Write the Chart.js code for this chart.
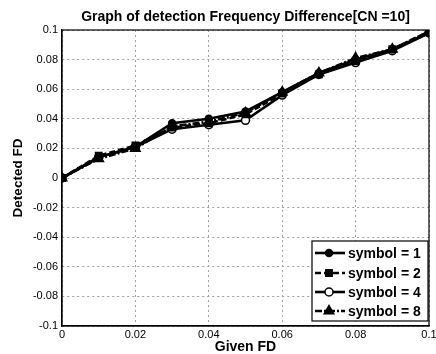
<!DOCTYPE html>
<html>
<head>
<meta charset="utf-8">
<script src="https://cdn.jsdelivr.net/npm/chart.js@4/dist/chart.umd.min.js"></script>
<style>
  html, body { margin: 0; padding: 0; background: #fff; }
  #wrap { width: 436px; height: 354px; position: relative; }
</style>
</head>
<body>
<div id="wrap"><canvas id="c" width="436" height="354"></canvas></div>
<script>
// ---- data ----
const xValues = [0, 0.01, 0.02, 0.03, 0.04, 0.05, 0.06, 0.07, 0.08, 0.09, 0.1];
const symbol1 = [0, 0.014, 0.021, 0.037, 0.040, 0.045, 0.058, 0.071, 0.080, 0.087, 0.098];
const symbol2 = [0, 0.015, 0.022, 0.034, 0.037, 0.043, 0.057, 0.070, 0.079, 0.087, 0.099];
const symbol4 = [0, 0.014, 0.021, 0.033, 0.036, 0.039, 0.056, 0.070, 0.078, 0.086, 0.098];
const symbol8 = [0, 0.013, 0.020, 0.035, 0.038, 0.044, 0.058, 0.071, 0.081, 0.087, 0.099];
const seriesLabels = ['symbol = 1', 'symbol = 2', 'symbol = 4', 'symbol = 8'];
const xTickLabels = ['0', '0.02', '0.04', '0.06', '0.08', '0.1'];
const yTickLabels = ['-0.1', '-0.08', '-0.06', '-0.04', '-0.02', '0', '0.02', '0.04', '0.06', '0.08', '0.1'];
const titleText = 'Graph of detection Frequency Difference[CN =10]';
const xTitle = 'Given FD';
const yTitle = 'Detected FD';

const FONT = "'Liberation Sans', Arial, sans-serif";
const toPts = arr => xValues.map((x, i) => ({ x: x, y: arr[i] }));

const datasets = [
  { label: seriesLabels[0], data: toPts(symbol1), pointStyle: 'circle', pointRadius: 3.5,
    pointBackgroundColor: '#000', borderDash: [] },
  { label: seriesLabels[1], data: toPts(symbol2), pointStyle: 'rect', pointRadius: 4.5,
    pointBackgroundColor: '#000', borderDash: [6, 3] },
  { label: seriesLabels[2], data: toPts(symbol4), pointStyle: 'circle', pointRadius: 4,
    pointBackgroundColor: '#fff', borderDash: [] },
  { label: seriesLabels[3], data: toPts(symbol8), pointStyle: 'triangle', pointRadius: 5.5,
    pointBackgroundColor: '#000', borderDash: [7, 2, 2, 2] }
].map(d => Object.assign({
  borderColor: '#000', borderWidth: 2.6, pointBorderColor: '#000', pointBorderWidth: 1.5,
  tension: 0, fill: false
}, d));

const framePlugin = {
  id: 'frame',
  afterDatasetsDraw(chart) {
    const { ctx, chartArea: a } = chart;
    ctx.save();
    ctx.strokeStyle = '#000';
    ctx.lineWidth = 1.2;
    ctx.setLineDash([]);
    ctx.strokeRect(a.left, a.top, a.right - a.left, a.bottom - a.top);
    ctx.restore();
  }
};

const legendBoxPlugin = {
  id: 'legendBox',
  afterDraw(chart) {
    const { ctx } = chart;
    const left = 312, top = 241, right = 428, bottom = 321;
    ctx.save();
    ctx.fillStyle = '#fff';
    ctx.fillRect(left, top, right - left, bottom - top);
    ctx.strokeStyle = '#000';
    ctx.lineWidth = 1.2;
    ctx.strokeRect(left, top, right - left, bottom - top);
    const rowY = [253, 273, 292, 311];
    chart.data.datasets.forEach((ds, i) => {
      const y = rowY[i];
      ctx.save();
      ctx.strokeStyle = ds.borderColor;
      ctx.lineWidth = ds.borderWidth;
      ctx.setLineDash(ds.borderDash || []);
      ctx.beginPath();
      ctx.moveTo(315, y);
      ctx.lineTo(345, y);
      ctx.stroke();
      ctx.restore();
      ctx.save();
      ctx.fillStyle = ds.pointBackgroundColor;
      ctx.strokeStyle = ds.pointBorderColor;
      ctx.lineWidth = ds.pointBorderWidth;
      Chart.helpers.drawPoint(ctx, { pointStyle: ds.pointStyle, radius: ds.pointRadius, rotation: 0, borderWidth: ds.pointBorderWidth }, 329, y);
      ctx.restore();
      ctx.fillStyle = '#000';
      ctx.font = 'bold 14px ' + FONT;
      ctx.textBaseline = 'middle';
      ctx.textAlign = 'left';
      ctx.fillText(ds.label, 348, y + 1);
    });
    ctx.restore();
  }
};

new Chart(document.getElementById('c'), {
  type: 'line',
  data: { datasets: datasets },
  options: {
    responsive: false,
    animation: false,
    devicePixelRatio: 1,
    layout: { padding: 0 },
    plugins: {
      legend: { display: false },
      tooltip: { enabled: false },
      title: {
        display: true, text: titleText, color: '#000', fullSize: false,
        font: { family: FONT, size: 14, weight: 'bold' },
        padding: { top: 9, bottom: 4.2 }
      }
    },
    scales: {
      x: {
        type: 'linear', min: 0, max: 0.1,
        ticks: {
          stepSize: 0.02, color: '#000', padding: 2, maxRotation: 0,
          font: { family: FONT, size: 11 },
          callback: (v, i) => xTickLabels[i] !== undefined ? xTickLabels[i] : ''
        },
        grid: { color: '#a0a0a0', lineWidth: 1, drawTicks: false },
        border: { display: true, color: '#000', width: 1.2, dash: [2, 3] },
        title: { display: true, text: xTitle, color: '#000',
          font: { family: FONT, size: 14, weight: 'bold' }, padding: { top: 0, bottom: -2 } },
        afterFit(scale) { scale.height = 28; scale.paddingLeft = 0; scale.paddingRight = 0; }
      },
      y: {
        type: 'linear', min: -0.1, max: 0.1,
        ticks: {
          stepSize: 0.02, color: '#000', padding: 4,
          font: { family: FONT, size: 11 },
          callback: (v, i) => yTickLabels[i] !== undefined ? yTickLabels[i] : ''
        },
        grid: { color: '#a0a0a0', lineWidth: 1, drawTicks: false },
        border: { display: true, color: '#000', width: 1.2, dash: [2, 3] },
        title: { display: true, text: yTitle, color: '#000',
          font: { family: FONT, size: 13.5, weight: 'bold' }, padding: { top: 10, bottom: 0 } },
        afterFit(scale) { scale.width = 62; scale.paddingTop = 0; scale.paddingBottom = 0; }
      }
    }
  },
  plugins: [framePlugin, legendBoxPlugin]
});
</script>
</body>
</html>
